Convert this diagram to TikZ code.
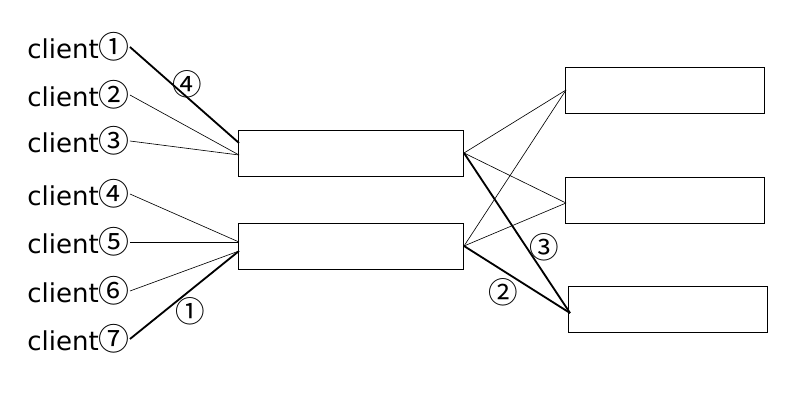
\documentclass[tikz,border=0pt]{standalone}
\usepackage{fontspec}
\setmainfont{DejaVu Sans}
\newfontfamily\cjk{Noto Sans CJK KR}
\usepackage{tikz}
\usetikzlibrary{positioning}

\newcommand{\circnum}[1]{{\cjk\fontsize{22}{22}\selectfont#1}}

\tikzset{
  midbox/.style={draw, line width=0.7pt, minimum width=5.6cm, minimum height=1.15cm, inner sep=0pt},
  srvbox/.style={draw, line width=0.7pt, minimum width=4.95cm, minimum height=1.15cm, inner sep=0pt},
  client/.style={anchor=west, inner sep=0pt, font=\fontsize{18.5}{20}\selectfont},
  tag/.style={inner sep=0pt, font=\cjk\fontsize{21}{21}\selectfont},
  link/.style={line width=0.45pt},
  route/.style={line width=1.3pt}
}

\begin{document}
\begin{tikzpicture}[x=0.025cm,y=-0.025cm]
  \useasboundingbox (0,0) rectangle (800,400);

  % clients
  \foreach \i/\y/\d in {1/47/①,2/95/②,3/141/③,4/194/④,5/242/⑤,6/291/⑥,7/339/⑦}
    \node[client] (c\i) at (27,\y) {client\circnum{\d}};

  % middle boxes
  \node[midbox] (mA) at (351,153) {};
  \node[midbox] (mB) at (351,246) {};

  % right boxes
  \node[srvbox] (r1) at (665,90) {};
  \node[srvbox] (r2) at (665,200) {};
  \node[srvbox] (r3) at (668,309) {};

  % connection points
  \coordinate (inA1) at (239,143);
  \coordinate (inA2) at (239,155);
  \coordinate (inB1) at (239,242);
  \coordinate (inB2) at (239,251);
  \coordinate (outA) at (464,153);
  \coordinate (outB) at (464,246);
  \coordinate (in1) at (566,90);
  \coordinate (in2) at (566,203);
  \coordinate (in3) at (570,313);

  \draw[route] (c1.east) -- (inA1);
  \draw[link] (c2.east) -- (inA2);
  \draw[link] (c3.east) -- (inA2);
  \draw[link] (c4.east) -- (inB1);
  \draw[link] (c5.east) -- (inB1);
  \draw[link] (c6.east) -- (inB2);
  \draw[route] (c7.east) -- (inB2);

  \draw[link] (outA) -- (in1);
  \draw[link] (outA) -- (in2);
  \draw[route] (outA) -- (in3);
  \draw[link] (outB) -- (in1);
  \draw[link] (outB) -- (in2);
  \draw[route] (outB) -- (in3);

  % route order
  \node[tag] (t4) at (187,84) {④};
  \node[tag] (t1) at (190,311) {①};
  \node[tag] (t3) at (544,247) {③};
  \node[tag] (t2) at (503,292) {②};
\end{tikzpicture}
\end{document}
